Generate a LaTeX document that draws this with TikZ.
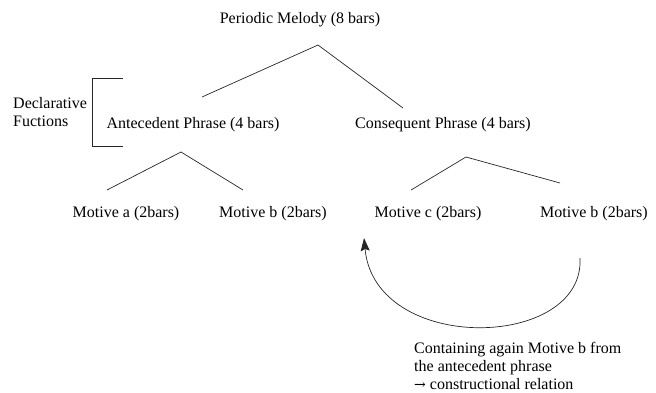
\documentclass[tikz,border=0pt]{standalone}
\usepackage{fontspec}
\setmainfont{Liberation Serif}
\newfontfamily\tmsfont{Liberation Serif}
\newfontfamily\symfont{DejaVu Serif}
\usetikzlibrary{arrows.meta}
\begin{document}
\begin{tikzpicture}[x=1pt,y=-1pt,
  lbl/.style={inner sep=0pt, font=\tmsfont\fontsize{16}{18}\selectfont},
  branch/.style={draw=black!85, line width=0.7pt}]
\useasboundingbox (0,0) rectangle (656,392);

% labels
\node[lbl] (melody) at (300,20) {Periodic Melody (8 bars)};
\node[lbl] (ante) at (193,125) {Antecedent Phrase (4 bars)};
\node[lbl] (cons) at (443,125) {Consequent Phrase (4 bars)};
\node[lbl] (ma) at (126,214) {Motive a (2bars)};
\node[lbl] (mb) at (273,214) {Motive b (2bars)};
\node[lbl] (mc) at (428,214) {Motive c (2bars)};
\node[lbl] (mb2) at (594,214) {Motive b (2bars)};
\node[lbl, align=left, anchor=west] (decl) at (13,112) {Declarative\\Fuctions};
\node[lbl, align=left, anchor=north west] (note) at (414,342)
  {Containing again Motive b from\\the antecedent phrase\\{\symfont\fontsize{14}{18}\selectfont →} constructional relation};

% tree branches
\coordinate (t1) at (318,45);
\coordinate (t1l) at (202,97);
\coordinate (t1r) at (403,108);
\draw[branch] (t1l) -- (t1) -- (t1r);

\coordinate (t2) at (181,152);
\coordinate (t2l) at (107,190);
\coordinate (t2r) at (243,190);
\draw[branch] (t2l) -- (t2) -- (t2r);

\coordinate (t3) at (466,157);
\coordinate (t3l) at (411,190);
\coordinate (t3r) at (560,183);
\draw[branch] (t3l) -- (t3) -- (t3r);

% bracket
\coordinate (b1) at (123,78);
\coordinate (b2) at (92,78);
\coordinate (b3) at (92,146);
\coordinate (b4) at (123,146);
\draw[branch] (b1) -- (b2) -- (b3) -- (b4);

% return arc
\coordinate (arcS) at (580,258);
\coordinate (arcE) at (364,238);
\draw[branch, -{Stealth[length=13pt,width=9pt,inset=2pt]}] (arcS) .. controls (585,350) and (375,355) .. (arcE);
\end{tikzpicture}
\end{document}
